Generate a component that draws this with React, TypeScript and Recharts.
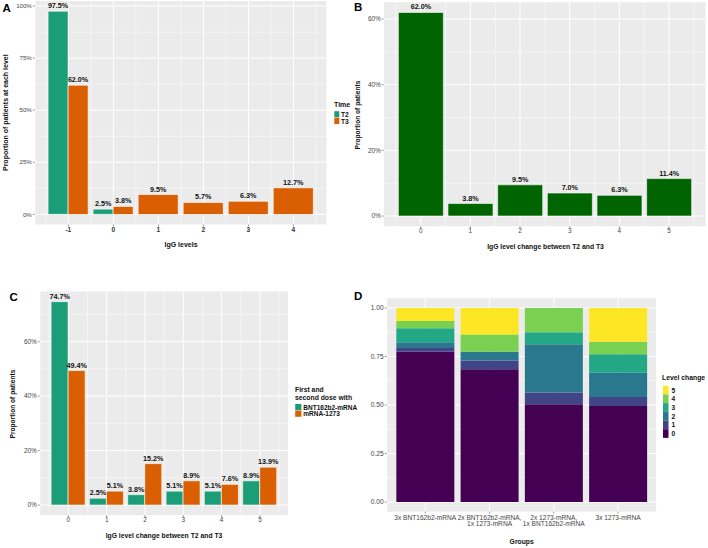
import React from "react";
import { BarChart, Bar, XAxis, YAxis, CartesianGrid, LabelList } from "recharts";

const FONT = "'Liberation Sans', Arial, Helvetica, sans-serif";

// ---------- Panel A ----------
const levelsA = ["-1", "0", "1", "2", "3", "4"];
const t2A: (number | null)[] = [97.5, 2.5, null, null, null, null];
const t3A = [62.0, 3.8, 9.5, 5.7, 6.3, 12.7];
const timeNames = ["T2", "T3"];
const ticksA = [0, 25, 50, 75, 100];
const minorA = [12.5, 37.5, 62.5, 87.5];

// ---------- Panel B ----------
const changesB = ["0", "1", "2", "3", "4", "5"];
const valuesB = [62.0, 3.8, 9.5, 7.0, 6.3, 11.4];
const ticksB = [0, 20, 40, 60];
const minorB = [10, 30, 50];

// ---------- Panel C ----------
const changesC = ["0", "1", "2", "3", "4", "5"];
const bntC = [74.7, 2.5, 3.8, 5.1, 5.1, 8.9];
const modernaC = [49.4, 5.1, 15.2, 8.9, 7.6, 13.9];
const doseNames = ["BNT162b2-mRNA", "mRNA-1273"];
const ticksC = [0, 20, 40, 60];
const minorC = [10, 30, 50, 70];

// ---------- Panel D ----------
const groupsD = [
  "3x BNT162b2-mRNA",
  "2x BNT162b2-mRNA,\n1x 1273-mRNA",
  "2x 1273-mRNA,\n1x BNT162b2-mRNA",
  "3x 1273-mRNA",
];
const level0D = [0.775, 0.684, 0.504, 0.495];
const level1D = [0.019, 0.046, 0.06, 0.046];
const level2D = [0.029, 0.045, 0.249, 0.125];
const level3D = [0.072, 0.0, 0.062, 0.096];
const level4D = [0.038, 0.089, 0.125, 0.064];
const level5D = [0.067, 0.136, 0.0, 0.174];
const levelNamesD = ["0", "1", "2", "3", "4", "5"];
const ticksD = [0, 0.25, 0.5, 0.75, 1];
const minorD = [0.125, 0.375, 0.625, 0.875];

const GREEN = "#1B9E77";
const ORANGE = "#D95F02";
const DARKGREEN = "#006400";
const VIRIDIS = ["#440154", "#414487", "#2A788E", "#22A884", "#7AD151", "#FDE725"];

const dataA = levelsA.map((l, i) => ({ level: l, T2: t2A[i], T3: t3A[i] }));
const dataB = changesB.map((c, i) => ({ change: c, value: valuesB[i] }));
const dataC = changesC.map((c, i) => ({ change: c, bnt: bntC[i], moderna: modernaC[i] }));
const levelArraysD = [level0D, level1D, level2D, level3D, level4D, level5D];
const dataD = groupsD.map((g, i) => {
  const row: any = { group: g };
  levelNamesD.forEach((n, k) => {
    row["L" + n] = levelArraysD[k][i];
  });
  return row;
});

const fmtPct = (v: any) => (v == null ? "" : `${Number(v).toFixed(1)}%`);

const PW = 354;
const PH = 274;
const XH = 20;

type Geo = { plotL: number; plotT: number; plotR: number; plotB: number };

const marginOf = (g: Geo) => ({
  top: g.plotT,
  right: PW - g.plotR,
  bottom: PH - g.plotB - XH,
  left: 0,
});

// continuous-like x padding (ggplot 5% expansion of bar extent)
const contPad = (g: Geo, n: number) => ((g.plotR - g.plotL) * 0.245) / (n + 0.49);
const discPad = (g: Geo, n: number) => ((g.plotR - g.plotL) * 0.1) / (n + 0.2);

const minorVertical = (n: number, padFn: (g: Geo, n: number) => number, g: Geo) => (p: any) => {
  const off = p.offset;
  const pad = padFn(g, n);
  const band = (off.width - 2 * pad) / n;
  const out: number[] = [];
  for (let i = 0; i <= n; i++) out.push(off.left + pad + i * band);
  return out;
};

const geoA: Geo = { plotL: 34.8, plotT: 1.05, plotR: 327, plotB: 224.5 };
const geoB: Geo = { plotL: 29.7, plotT: 2.3, plotR: 352, plotB: 226.2 };
const geoC: Geo = { plotL: 39.8, plotT: 17.5, plotR: 288.5, plotB: 241.2 };
const geoD: Geo = { plotL: 32.7, plotT: 24.3, plotR: 302.6, plotB: 237.7 };

const tickStyle = { fontSize: 6.4, fill: "#444", fontFamily: FONT };
const labelProps = { fontSize: 7.2, fontWeight: 700, fill: "#111", fontFamily: FONT };

const labelA3 = (props: any) => {
  const vb = props.viewBox || props;
  const { x, y, width } = vb;
  if (props.value == null) return null;
  const i = props.index;
  const solo = i != null && t2A[i] == null;
  const cx = solo ? x : x + width / 2;
  return (
    <text x={cx} y={y - 3} textAnchor="middle" {...labelProps}>
      {fmtPct(props.value)}
    </text>
  );
};

const shapeA3 = (props: any) => {
  const { x, y, width, height, payload } = props;
  if (height == null || isNaN(height)) return null;
  const solo = payload && payload.T2 == null;
  const nx = solo ? x - width : x;
  const nw = solo ? width * 2 : width;
  return <rect x={nx} y={y} width={nw} height={height} fill={ORANGE} stroke="#fff" strokeWidth={0.6} />;
};

const DTick = (props: any) => {
  const { x, y, payload } = props;
  const lines = String(payload.value).split("\n");
  return (
    <text x={x} y={y} textAnchor="middle" fontSize={6.6} fill="#444" fontFamily={FONT}>
      {lines.map((l, i) => (
        <tspan key={i} x={x} dy={i === 0 ? "0.71em" : 5.8}>
          {l}
        </tspan>
      ))}
    </text>
  );
};

export default function App() {
  return (
    <div style={{ position: "absolute", left: 0, top: 0, width: 708, height: 548, background: "#fff", fontFamily: FONT }}>
      {/* Panel A */}
      <div style={{ position: "absolute", left: 0, top: 0 }}>
        <BarChart width={PW} height={PH} data={dataA} margin={marginOf(geoA)} barCategoryGap="5%" barGap={0}>
          <CartesianGrid
            fill="#EBEBEB"
            fillOpacity={1}
            stroke="#fff"
            strokeWidth={0.5}
            horizontalValues={minorA}
            verticalCoordinatesGenerator={minorVertical(6, contPad, geoA)}
          />
          <CartesianGrid stroke="#fff" strokeWidth={1} horizontalValues={ticksA} />
          <XAxis
            dataKey="level"
            type="category"
            interval={0}
            height={XH}
            padding={{ left: contPad(geoA, 6), right: contPad(geoA, 6) }}
            axisLine={false}
            tickSize={2}
            tickMargin={1}
            tickLine={{ stroke: "#333", strokeWidth: 0.5 }}
            tick={{ ...tickStyle, fontSize: 6.6, fontWeight: 700, fill: "#333" }}
          />
          <YAxis
            type="number"
            width={geoA.plotL}
            domain={[-4.875, 102.375]}
            ticks={ticksA}
            interval={0}
            tickFormatter={(v: number) => `${v}%`}
            axisLine={false}
            tickSize={2}
            tickMargin={1}
            tickLine={{ stroke: "#333", strokeWidth: 0.5 }}
            tick={{ ...tickStyle, fontSize: 6.1 }}
          />
          <Bar dataKey="T2" fill={GREEN} stroke="#fff" strokeWidth={0.6} isAnimationActive={false}>
            <LabelList dataKey="T2" position="top" offset={3} formatter={fmtPct} {...labelProps} />
          </Bar>
          <Bar dataKey="T3" fill={ORANGE} shape={shapeA3} isAnimationActive={false}>
            <LabelList dataKey="T3" content={labelA3} />
          </Bar>
        </BarChart>
      </div>

      {/* Panel B */}
      <div style={{ position: "absolute", left: 354, top: 0 }}>
        <BarChart width={PW} height={PH} data={dataB} margin={marginOf(geoB)} barCategoryGap="5%" barGap={0}>
          <CartesianGrid
            fill="#EBEBEB"
            fillOpacity={1}
            stroke="#fff"
            strokeWidth={0.5}
            horizontalValues={minorB}
            verticalCoordinatesGenerator={minorVertical(6, contPad, geoB)}
          />
          <CartesianGrid stroke="#fff" strokeWidth={1} horizontalValues={ticksB} />
          <XAxis
            dataKey="change"
            type="category"
            interval={0}
            height={XH}
            padding={{ left: contPad(geoB, 6), right: contPad(geoB, 6) }}
            axisLine={false}
            tickSize={2}
            tickMargin={0.5}
            tickLine={{ stroke: "#333", strokeWidth: 0.5 }}
            tick={tickStyle}
          />
          <YAxis
            type="number"
            width={geoB.plotL}
            domain={[-3.1, 65.1]}
            ticks={ticksB}
            interval={0}
            tickFormatter={(v: number) => `${v}%`}
            axisLine={false}
            tickSize={2}
            tickMargin={1}
            tickLine={{ stroke: "#333", strokeWidth: 0.5 }}
            tick={tickStyle}
          />
          <Bar dataKey="value" fill={DARKGREEN} stroke="#fff" strokeWidth={0.6} isAnimationActive={false}>
            <LabelList dataKey="value" position="top" offset={3} formatter={fmtPct} {...labelProps} />
          </Bar>
        </BarChart>
      </div>

      {/* Panel C */}
      <div style={{ position: "absolute", left: 0, top: 274 }}>
        <BarChart width={PW} height={PH} data={dataC} margin={marginOf(geoC)} barCategoryGap="5%" barGap={0}>
          <CartesianGrid
            fill="#EBEBEB"
            fillOpacity={1}
            stroke="#fff"
            strokeWidth={0.5}
            horizontalValues={minorC}
            verticalCoordinatesGenerator={minorVertical(6, contPad, geoC)}
          />
          <CartesianGrid stroke="#fff" strokeWidth={1} horizontalValues={ticksC} />
          <XAxis
            dataKey="change"
            type="category"
            interval={0}
            height={XH}
            padding={{ left: contPad(geoC, 6), right: contPad(geoC, 6) }}
            axisLine={false}
            tickSize={2}
            tickMargin={0}
            tickLine={{ stroke: "#333", strokeWidth: 0.5 }}
            tick={tickStyle}
          />
          <YAxis
            type="number"
            width={geoC.plotL}
            domain={[-3.735, 78.435]}
            ticks={ticksC}
            interval={0}
            tickFormatter={(v: number) => `${v}%`}
            axisLine={false}
            tickSize={2}
            tickMargin={1}
            tickLine={{ stroke: "#333", strokeWidth: 0.5 }}
            tick={tickStyle}
          />
          <Bar dataKey="bnt" name={doseNames[0]} fill={GREEN} stroke="#fff" strokeWidth={0.6} isAnimationActive={false}>
            <LabelList dataKey="bnt" position="top" offset={3} formatter={fmtPct} {...labelProps} />
          </Bar>
          <Bar dataKey="moderna" name={doseNames[1]} fill={ORANGE} stroke="#fff" strokeWidth={0.6} isAnimationActive={false}>
            <LabelList dataKey="moderna" position="top" offset={3} formatter={fmtPct} {...labelProps} />
          </Bar>
        </BarChart>
      </div>

      {/* Panel D */}
      <div style={{ position: "absolute", left: 354, top: 274 }}>
        <BarChart width={PW} height={PH} data={dataD} margin={marginOf(geoD)} barCategoryGap="5%" barGap={0}>
          <CartesianGrid
            fill="#EBEBEB"
            fillOpacity={1}
            stroke="#fff"
            strokeWidth={0.5}
            horizontalValues={minorD}
            vertical={false}
          />
          <CartesianGrid stroke="#fff" strokeWidth={1} horizontalValues={ticksD} />
          <XAxis
            dataKey="group"
            type="category"
            interval={0}
            height={XH}
            padding={{ left: discPad(geoD, 4), right: discPad(geoD, 4) }}
            axisLine={false}
            tickSize={2}
            tickMargin={1.7}
            tickLine={{ stroke: "#333", strokeWidth: 0.5 }}
            tick={<DTick />}
          />
          <YAxis
            type="number"
            width={geoD.plotL}
            domain={[-0.05, 1.05]}
            ticks={ticksD}
            interval={0}
            tickFormatter={(v: number) => v.toFixed(2)}
            axisLine={false}
            tickSize={2}
            tickMargin={1}
            tickLine={{ stroke: "#333", strokeWidth: 0.5 }}
            tick={{ ...tickStyle, fontSize: 6.6 }}
          />
          {levelNamesD.map((n, k) => (
            <Bar key={n} dataKey={"L" + n} name={n} stackId="s" fill={VIRIDIS[k]} isAnimationActive={false} />
          ))}
        </BarChart>
      </div>

      {/* Overlay: panel letters, axis titles, legends */}
      <svg
        width={708}
        height={548}
        style={{ position: "absolute", left: 0, top: 0, pointerEvents: "none" }}
        fontFamily={FONT}
      >
        <g fontWeight={700} fontSize={11.5} fill="#000">
          <text x={2.5} y={11.5}>A</text>
          <text x={354} y={10.5}>B</text>
          <text x={9.5} y={300.5}>C</text>
          <text x={354} y={299.5}>D</text>
        </g>

        <g fontWeight={700} fill="#111" textAnchor="middle" dominantBaseline="central">
          <text fontSize={7} transform="translate(5.5,112.7) rotate(-90)">Proportion of patients at each level</text>
          <text fontSize={7} x={181} y={244.3}>IgG levels</text>
          <text fontSize={6.6} transform="translate(357.5,115) rotate(-90)">Proportion of patients</text>
          <text fontSize={6.8} x={545.5} y={246.7}>IgG level change between T2 and T3</text>
          <text fontSize={6.6} transform="translate(12.7,404) rotate(-90)">Proportion of patients</text>
          <text fontSize={6.8} x={164} y={535}>IgG level change between T2 and T3</text>
          <text fontSize={6.8} x={521.7} y={541.7}>Groups</text>
        </g>

        {/* Legend A */}
        <g fontWeight={700} fill="#111" dominantBaseline="central">
          <text x={334} y={104.3} fontSize={7}>Time</text>
          {timeNames.map((n, i) => (
            <g key={n}>
              <rect x={334.3} y={111.2 + i * 6.7} width={5} height={6.2} fill={i === 0 ? GREEN : ORANGE} />
              <text x={341} y={114.3 + i * 6.7} fontSize={6.6}>{n}</text>
            </g>
          ))}
        </g>

        {/* Legend C */}
        <g fontWeight={700} fill="#111" dominantBaseline="central">
          <text x={295} y={389.5} fontSize={6.8}>First and</text>
          <text x={295} y={397.3} fontSize={6.8}>second dose with</text>
          {doseNames.map((n, i) => (
            <g key={n}>
              <rect x={295.2} y={404 + i * 6.6} width={6.2} height={6.2} fill={i === 0 ? GREEN : ORANGE} />
              <text x={303.3} y={407.1 + i * 6.6} fontSize={6.5}>{n}</text>
            </g>
          ))}
        </g>

        {/* Legend D */}
        <g fontWeight={700} fill="#111" dominantBaseline="central">
          <text x={662} y={377} fontSize={6.8}>Level change</text>
          {levelNamesD
            .slice()
            .reverse()
            .map((n, i) => (
              <g key={n}>
                <rect x={663} y={385.7 + i * 8.7} width={5.5} height={8.7} fill={VIRIDIS[levelNamesD.length - 1 - i]} />
                <text x={671.5} y={390 + i * 8.7} fontSize={6.6}>{n}</text>
              </g>
            ))}
        </g>
      </svg>
    </div>
  );
}
